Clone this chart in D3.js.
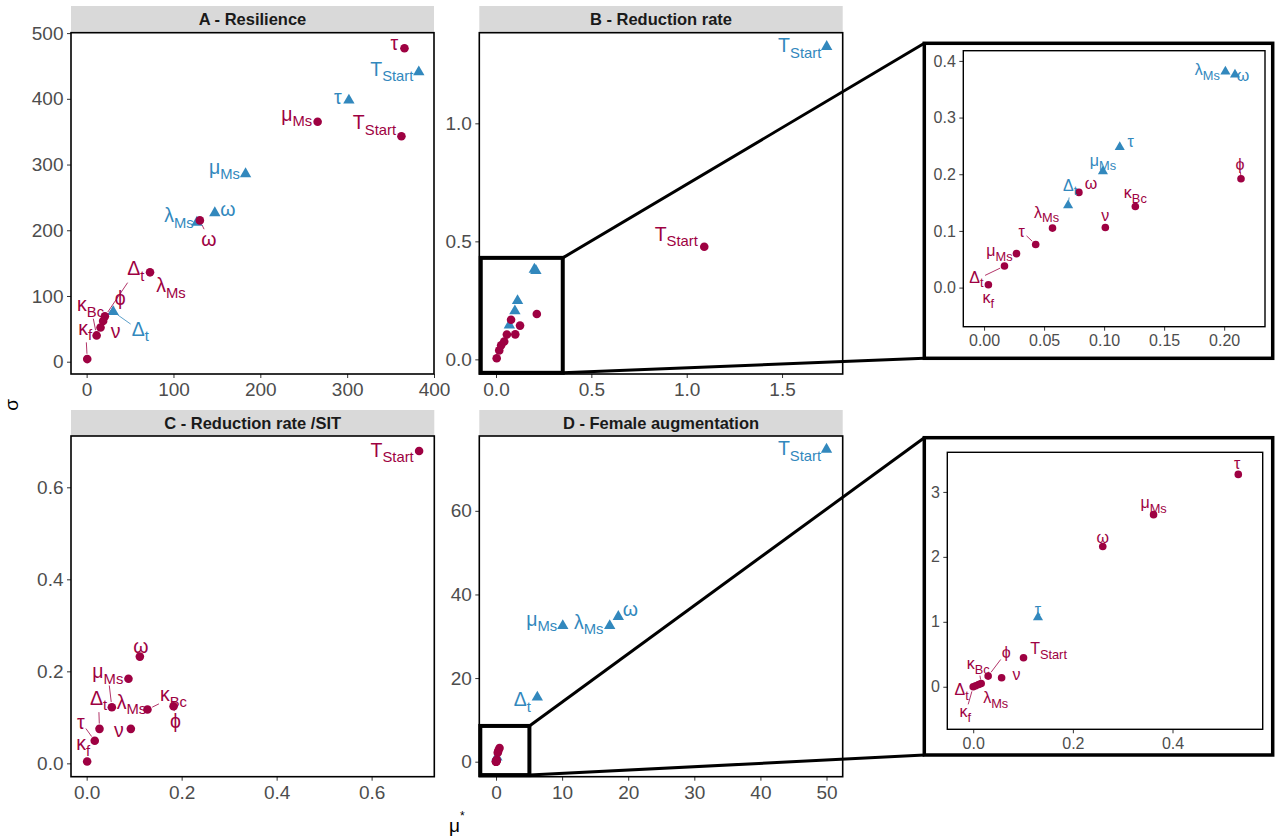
<!DOCTYPE html>
<html><head><meta charset="utf-8">
<script src="https://cdn.jsdelivr.net/npm/d3@7"></script>
<style>
body{margin:0;background:#fff}
svg{display:block}
text{font-family:"Liberation Sans",Arial,sans-serif}
</style>
</head><body>
<svg id="chart" width="1276" height="838"></svg>
<script>
// ---------------- DATA ----------------
// Panel A – Resilience
const A_red_param  = ["tau","TStart","muMs","omega","lambdaMs","Deltat","phi","nu","kappaBc","kappaf"];
const A_red_mu     = [366, 362.5, 266, 130.4, 73, 21, 19, 16, 11.5, 0.7];
const A_red_sigma  = [477, 343, 365, 215, 136, 69, 62, 52, 40, 4];
const A_blue_param = ["TStart","tau","muMs","omega","lambdaMs","Deltat"];
const A_blue_mu    = [382.5, 302, 183, 147.6, 127, 30.6];
const A_blue_sigma = [440.7, 397.7, 285.7, 226.4, 212, 76];

// Panel B – Reduction rate
const B_red_param  = ["kappaf","Deltat","muMs","tau","lambdaMs","omega","nu","kappaBc","phi","TStart"];
const B_red_mu     = [0.0036, 0.017, 0.027, 0.043, 0.057, 0.079, 0.101, 0.126, 0.214, 1.092];
const B_red_sigma  = [0.005, 0.038, 0.060, 0.076, 0.105, 0.168, 0.106, 0.143, 0.192, 0.477];
const B_blue_param = ["Deltat","muMs","tau","lambdaMs","omega","TStart"];
const B_blue_mu    = [0.070, 0.099, 0.113, 0.201, 0.209, 1.734];
const B_blue_sigma = [0.145, 0.205, 0.248, 0.381, 0.376, 1.325];

// Panel C – Reduction rate /SIT
const C_red_param  = ["TStart","omega","lambdaMs","muMs","kappaBc","phi","Deltat","nu","tau","kappaf"];
const C_red_mu     = [0.700, 0.112, 0.088, 0.053, 0.128, 0.183, 0.027, 0.093, 0.017, 0.001];
const C_red_sigma  = [0.679, 0.232, 0.184, 0.122, 0.117, 0.124, 0.075, 0.075, 0.049, 0.004];

// Panel D – Female augmentation
const D_red_param  = ["tau","muMs","omega","TStart","nu","phi","kappaBc","lambdaMs","Deltat","kappaf"];
const D_red_mu     = [0.532, 0.362, 0.260, 0.101, 0.057, 0.030, 0.016, 0.011, 0.005, 0.0];
const D_red_sigma  = [3.27, 2.65, 2.16, 0.446, 0.138, 0.164, 0.05, 0.035, 0.015, 0.0];
const D_blue_param = ["TStart","omega","lambdaMs","muMs","Deltat","tau"];
const D_blue_mu    = [50.0, 18.5, 17.2, 10.1, 6.25, 0.130];
const D_blue_sigma = [74.7, 34.7, 32.5, 32.5, 15.4, 1.07];

// zoom windows (data units)
const zoomB_mu = [-0.08, 0.35], zoomB_sigma = [-0.057, 0.43];
const zoomD_mu = [-2.6, 5.05],  zoomD_sigma = [-3.2, 8.55];

// tick values
const A_xticks = [0,100,200,300,400], A_yticks = [0,100,200,300,400,500];
const B_xticks = [0,0.5,1.0,1.5],     B_yticks = [0,0.5,1.0];
const C_xticks = [0,0.2,0.4,0.6],     C_yticks = [0,0.2,0.4,0.6];
const D_xticks = [0,10,20,30,40,50],  D_yticks = [0,20,40,60];
const IB_xticks = [0,0.05,0.10,0.15,0.20], IB_yticks = [0,0.1,0.2,0.3,0.4];
const ID_xticks = [0,0.2,0.4], ID_yticks = [0,1,2,3];

const panelTitles = ["A - Resilience","B - Reduction rate","C - Reduction rate /SIT","D - Female augmentation"];

// ---------------- STYLE / LAYOUT ----------------
const RED = "#9E0142", BLUE = "#3288BD";
const NAMES = {tau:["τ",""], TStart:["T","Start"], muMs:["μ","Ms"], omega:["ω",""],
  lambdaMs:["λ","Ms"], Deltat:["Δ","t"], kappaBc:["κ","Bc"], kappaf:["κ","f"], phi:["ϕ",""], nu:["ν",""]};

// label offsets in px [dx, dy, segment]
const LBL = {
  A: {red: {tau:[-10,-5], TStart:[-27,-14], muMs:[-21,-8], omega:[9,19,1], lambdaMs:[21,13],
            Deltat:[31,-48,1], phi:[17,-23,1], nu:[15,4], kappaBc:[-6,-31,1], kappaf:[-2,-31,1]},
      blue:{TStart:[-27,-3], tau:[-11,-3], muMs:[-21,-7], omega:[13,-4], lambdaMs:[-18,-7], Deltat:[27,17,1]}},
  B: {red: {TStart:[-28,-13]}, blue:{TStart:[-27,-1]}},
  IB:{red: {kappaf:[0,13], Deltat:[-28,11,1], muMs:[-17,-3], tau:[-14,-13,1], lambdaMs:[-6,-16],
            omega:[12,-9], nu:[0,-12], kappaBc:[0,-14], phi:[-1,-14,1]},
      blue:{Deltat:[2,-20,1], muMs:[0,-11], tau:[11,-6], lambdaMs:[-18,-2], omega:[8,1]}},
  C: {red: {TStart:[-27,-1], omega:[1,-10], lambdaMs:[3,23], muMs:[-4,-36,1], kappaBc:[26,-15,1],
            phi:[2,15,1], Deltat:[-1,-31,1], nu:[-12,1], tau:[-14,-19,1], kappaf:[-4,-18,1]}},
  D: {red: {}, blue:{TStart:[-27,-1], muMs:[-21,-7], lambdaMs:[-21,-4], omega:[12,-7], Deltat:[-15,2]}},
  ID:{red: {tau:[-1,-11], muMs:[0,-12], omega:[0,-9], TStart:[25,-9], nu:[15,-3], phi:[18,-24,1],
            kappaBc:[-3,-20,1], lambdaMs:[17,13], Deltat:[-14,4], kappaf:[-8,25,1]},
      blue:{tau:[0,-8]}}
};

const svg = d3.select("#chart");
const fmt = s => d3.format(s);

function series(params, mu, sigma, grp){ return params.map((p,i)=>({p, mu:mu[i], sigma:sigma[i], grp})); }

function drawPanel(cfg){
  const [x0,y0,x1,y1] = cfg.box;
  const g = svg.append("g");
  const x = d3.scaleLinear().domain(cfg.xd).range([x0,x1]);
  const y = d3.scaleLinear().domain(cfg.yd).range([y1,y0]);
  if (cfg.outer){
    const [ox0,oy0,ox1,oy1] = cfg.outer;
    g.append("rect").attr("x",ox0).attr("y",oy0).attr("width",ox1-ox0).attr("height",oy1-oy0)
      .attr("fill","#fff").attr("stroke","#000").attr("stroke-width",3.5);
  }
  g.append("rect").attr("x",x0).attr("y",y0).attr("width",x1-x0).attr("height",y1-y0).attr("fill","#fff");
  if (cfg.title){
    g.append("rect").attr("x",x0).attr("y",cfg.strip[0]).attr("width",x1-x0).attr("height",cfg.strip[1]-cfg.strip[0]).attr("fill","#D9D9D9");
    g.append("text").attr("x",(x0+x1)/2).attr("y",(cfg.strip[0]+cfg.strip[1])/2+6).attr("text-anchor","middle")
      .attr("font-weight","bold").attr("font-size",16.5).attr("fill","#1A1A1A").text(cfg.title);
  }
  // axes
  const tf = cfg.tickFont;
  const xa = d3.axisBottom(x).tickValues(cfg.xt).tickFormat(fmt(cfg.xf)).tickSize(4).tickPadding(3);
  const ya = d3.axisLeft(y).tickValues(cfg.yt).tickFormat(fmt(cfg.yf)).tickSize(4).tickPadding(3.5);
  const gx = g.append("g").attr("transform",`translate(0,${y1})`).call(xa);
  const gy = g.append("g").attr("transform",`translate(${x0},0)`).call(ya);
  [gx,gy].forEach(a=>{
    a.select(".domain").remove();
    a.selectAll("line").attr("stroke","#333").attr("stroke-width",1);
    a.selectAll("text").attr("font-size",tf).attr("fill","#4D4D4D").attr("font-family",'"Liberation Sans",Arial,sans-serif');
  });
  gx.selectAll("text").attr("dy","0.78em");
  // border
  g.append("rect").attr("x",x0).attr("y",y0).attr("width",x1-x0).attr("height",y1-y0)
    .attr("fill","none").attr("stroke","#000").attr("stroke-width",cfg.outer?1.4:1.6);

  const inDom = d => d.mu>=cfg.xd[0] && d.mu<=cfg.xd[1] && d.sigma>=cfg.yd[0] && d.sigma<=cfg.yd[1];
  const blue = (cfg.blue||[]).filter(inDom), red = (cfg.red||[]).filter(inDom);
  const segG = g.append("g"), ptG = g.append("g"), lblG = g.append("g");
  ptG.selectAll("path.tri").data(blue).join("path").attr("class","tri")
    .attr("d", d3.symbol(d3.symbolTriangle, cfg.tri))
    .attr("transform", d=>`translate(${x(d.mu)},${y(d.sigma)})`).attr("fill",BLUE);
  ptG.selectAll("circle").data(red).join("circle")
    .attr("cx",d=>x(d.mu)).attr("cy",d=>y(d.sigma)).attr("r",cfg.r).attr("fill",RED);

  const L = LBL[cfg.key] || {};
  [...blue, ...red].forEach(d=>{
    const off = (L[d.grp]||{})[d.p];
    if (!off) return;
    const col = d.grp==="red"?RED:BLUE;
    const px = x(d.mu), py = y(d.sigma);
    const lx = px+off[0], ly = py+off[1];
    const [m,s] = NAMES[d.p];
    const t = lblG.append("text").attr("x",lx).attr("y",ly+0.35*cfg.fm).attr("text-anchor","middle")
      .attr("fill",col).attr("font-size",cfg.fm);
    t.append("tspan").text(m);
    if (s) t.append("tspan").attr("font-size",cfg.fs).attr("dy",0.28*cfg.fm).text(s);
    if (off[2]){
      const bb = t.node().getBBox();
      const cx = bb.x+bb.width/2, cy = bb.y+bb.height/2;
      const dx = px-cx, dy = py-cy;
      const tx = Math.abs(dx)>1e-6 ? (bb.width/2+1)/Math.abs(dx) : Infinity;
      const ty = Math.abs(dy)>1e-6 ? (bb.height/2-1)/Math.abs(dy) : Infinity;
      const te = Math.min(tx,ty);
      if (te < 1){
        const ex = cx+dx*te, ey = cy+dy*te;
        const len = Math.hypot(ex-px, ey-py);
        const sp = Math.min((cfg.r+1)/len, 0.5);
        segG.append("line").attr("x1",px+(ex-px)*sp).attr("y1",py+(ey-py)*sp).attr("x2",ex).attr("y2",ey)
          .attr("stroke",col).attr("stroke-width",0.8);
      }
    }
  });
  return {x,y,g};
}

const main = {tickFont:19, fm:19.5, fs:14.8, r:4.3, tri:56};
const ins  = {tickFont:16, fm:16, fs:12.8, r:3.8, tri:44};

const A = drawPanel({...main, key:"A", title:panelTitles[0], box:[71,32.7,434,374], strip:[6,32.7],
  xd:[-18,400], yd:[-18.7,500.6], xt:A_xticks, yt:A_yticks, xf:"d", yf:"d",
  red:series(A_red_param,A_red_mu,A_red_sigma,"red"), blue:series(A_blue_param,A_blue_mu,A_blue_sigma,"blue")});

const B = drawPanel({...main, key:"B", title:panelTitles[1], box:[479.3,32.7,842.7,374], strip:[6,32.7],
  xd:[-0.0876,1.818], yd:[-0.062,1.384], xt:B_xticks, yt:B_yticks, xf:".1f", yf:".1f",
  red:series(B_red_param,B_red_mu,B_red_sigma,"red"), blue:series(B_blue_param,B_blue_mu,B_blue_sigma,"blue")});

const C = drawPanel({...main, key:"C", title:panelTitles[2], box:[71,436,434.3,776.7], strip:[410,436],
  xd:[-0.033,0.732], yd:[-0.029,0.7115], xt:C_xticks, yt:C_yticks, xf:".1f", yf:".1f",
  red:series(C_red_param,C_red_mu,C_red_sigma,"red")});

const D = drawPanel({...main, key:"D", title:panelTitles[3], box:[479.3,436,842.7,776.7], strip:[410,436],
  xd:[-2.53,52.45], yd:[-3.59,77.9], xt:D_xticks, yt:D_yticks, xf:"d", yf:"d",
  red:series(D_red_param,D_red_mu,D_red_sigma,"red"), blue:series(D_blue_param,D_blue_mu,D_blue_sigma,"blue")});

// zoom rectangles + connectors
function zoomLinks(P, mu, sg, outer){
  const xl = Math.max(P.x(mu[0]), P.x.range()[0]+1), xr = P.x(mu[1]);
  const yt = P.y(sg[1]), yb = Math.min(P.y(sg[0]), P.y.range()[0]-1);
  const g = svg.append("g");
  g.append("rect").attr("x",xl).attr("y",yt).attr("width",xr-xl).attr("height",yb-yt)
    .attr("fill","none").attr("stroke","#000").attr("stroke-width",4);
  g.append("line").attr("x1",xr).attr("y1",yt).attr("x2",outer[0]).attr("y2",outer[1]).attr("stroke","#000").attr("stroke-width",3);
  g.append("line").attr("x1",xr).attr("y1",yb).attr("x2",outer[0]).attr("y2",outer[3]).attr("stroke","#000").attr("stroke-width",3);
}
const IBouter = [924.3,43.3,1272.7,358.3], IDouter = [924.3,437.7,1272.7,755];
zoomLinks(B, zoomB_mu, zoomB_sigma, IBouter);
zoomLinks(D, zoomD_mu, zoomD_sigma, IDouter);

drawPanel({...ins, key:"IB", outer:IBouter, box:[963.3,50.7,1265,326.7],
  xd:[-0.0173,0.234], yd:[-0.069,0.418], xt:IB_xticks, yt:IB_yticks, xf:".2f", yf:".1f",
  red:series(B_red_param,B_red_mu,B_red_sigma,"red"), blue:series(B_blue_param,B_blue_mu,B_blue_sigma,"blue")});

drawPanel({...ins, key:"ID", outer:IDouter, box:[947.3,452.3,1262.7,729.3],
  xd:[-0.052,0.581], yd:[-0.655,3.61], xt:ID_xticks, yt:ID_yticks, xf:".1f", yf:"d",
  red:series(D_red_param,D_red_mu,D_red_sigma,"red"), blue:series(D_blue_param,D_blue_mu,D_blue_sigma,"blue")});

// axis titles
svg.append("text").attr("transform","translate(18,405) rotate(-90)").attr("text-anchor","middle")
  .attr("font-size",19).attr("fill","#000").text("σ");
const mt = svg.append("text").attr("x",449).attr("y",832).attr("font-size",19).attr("fill","#000");
mt.append("tspan").text("μ");
mt.append("tspan").attr("font-size",12).attr("dy",-12).text("*");
</script>
</body></html>
